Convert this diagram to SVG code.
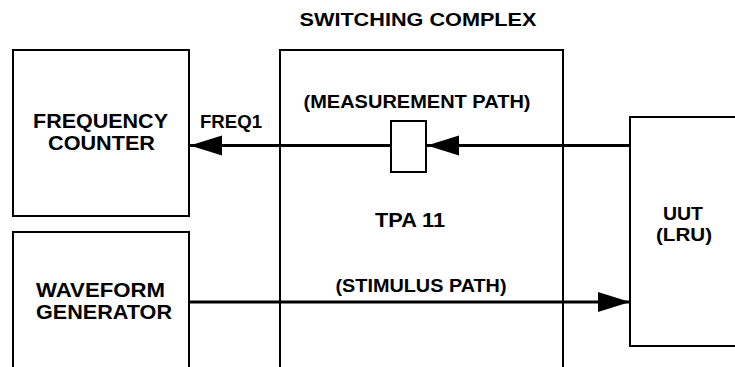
<svg xmlns="http://www.w3.org/2000/svg" width="735" height="367" viewBox="0 0 735 367">
<style>
.box{fill:#fff;stroke:#000;stroke-width:2}
.t{font-family:"Liberation Sans",Arial,sans-serif;font-weight:bold;fill:#000;text-anchor:middle}
.ln{stroke:#000;stroke-width:3;fill:none}
</style>
<defs>
<marker id="ah" markerUnits="userSpaceOnUse" markerWidth="34" markerHeight="24" refX="32" refY="11" orient="auto">
<path d="M0,1 L32,11 L0,21 Z" fill="#000"/>
</marker>
</defs>
<rect width="735" height="367" fill="#fff"/>
<g id="switching-complex">
<rect class="box" x="280" y="50" width="283" height="330"/>
<text class="t" x="418" y="26" font-size="19" textLength="237" lengthAdjust="spacingAndGlyphs">SWITCHING COMPLEX</text>
<text class="t" x="417" y="108" font-size="18.5" textLength="227" lengthAdjust="spacingAndGlyphs">(MEASUREMENT PATH)</text>
<text class="t" x="410" y="227" font-size="20" textLength="70" lengthAdjust="spacingAndGlyphs">TPA 11</text>
<text class="t" x="421" y="292" font-size="18.5" textLength="171" lengthAdjust="spacingAndGlyphs">(STIMULUS PATH)</text>
</g>
<g id="frequency-counter">
<rect class="box" x="13" y="50" width="176" height="166"/>
<text class="t" x="100.5" y="128" font-size="20.5" textLength="135" lengthAdjust="spacingAndGlyphs">FREQUENCY</text>
<text class="t" x="101.5" y="150" font-size="20.5" textLength="107" lengthAdjust="spacingAndGlyphs">COUNTER</text>
</g>
<g id="waveform-generator">
<rect class="box" x="13" y="232" width="176" height="150"/>
<text class="t" x="100.5" y="297" font-size="20.5" textLength="129" lengthAdjust="spacingAndGlyphs">WAVEFORM</text>
<text class="t" x="104" y="319" font-size="20.5" textLength="136" lengthAdjust="spacingAndGlyphs">GENERATOR</text>
</g>
<g id="uut">
<rect class="box" x="630" y="117" width="120" height="229"/>
<text class="t" x="683" y="220" font-size="18.5" textLength="40" lengthAdjust="spacingAndGlyphs">UUT</text>
<text class="t" x="684" y="241" font-size="18.5" textLength="56" lengthAdjust="spacingAndGlyphs">(LRU)</text>
</g>
<g id="connectors">
<line class="ln" x1="630" y1="145.5" x2="427" y2="145.5" marker-end="url(#ah)"/>
<line class="ln" x1="391" y1="145.5" x2="190" y2="145.5" marker-end="url(#ah)"/>
<rect id="switch" class="box" x="391" y="121" width="35" height="51"/>
<text class="t" x="231" y="128" font-size="18" textLength="62" lengthAdjust="spacingAndGlyphs">FREQ1</text>
<line class="ln" x1="190" y1="302" x2="630" y2="302" marker-end="url(#ah)"/>
</g>
</svg>
